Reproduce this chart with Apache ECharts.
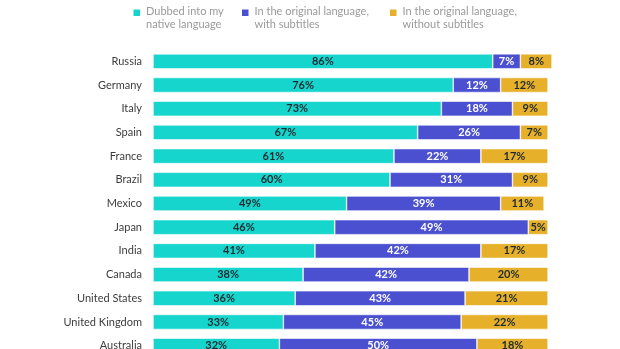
<!DOCTYPE html>
<html><head><meta charset="utf-8">
<script src="https://cdn.jsdelivr.net/npm/echarts@6/dist/echarts.min.js"></script>
<style>html,body{margin:0;padding:0;background:#fff}#c{width:620px;height:349px}</style>
</head><body><div id="c"></div>
<script>
var categories = ["Russia","Germany","Italy","Spain","France","Brazil","Mexico","Japan","India","Canada","United States","United Kingdom","Australia"];
var dubbed = [86,76,73,67,61,60,49,46,41,38,36,33,32];
var withSubs = [7,12,18,26,22,31,39,49,42,42,43,45,50];
var withoutSubs = [8,12,9,7,17,9,11,5,17,20,21,22,18];
var seriesNames = ["Dubbed into my\nnative language","In the original language,\nwith subtitles","In the original language,\nwithout subtitles"];
var colors = ["#16d5cc","#4a50d0","#e6b02a"];
var labelColors = ["#1e2a30","#ffffff","#1e2a30"];
var values = [dubbed, withSubs, withoutSubs];
var font = "Lato, 'Open Sans', sans-serif";
var chart = echarts.init(document.getElementById('c'));
var legendLefts = [131.5, 240, 388];
var legends = seriesNames.map(function(n, i){
  return {
    data:[n], left: legendLefts[i], top: 4.5, padding: 0,
    itemWidth: 8.5, itemHeight: 19, icon: 'path://M0,0L9,0L9,9L0,9Z M0,19L0.001,19Z',
    selectedMode: false,
    textStyle: {color:'#9a9a9a', fontSize: 11, fontFamily: font, lineHeight: 13}
  };
});
chart.setOption({
  animation: false,
  color: colors,
  legend: legends,
  grid: {left: 153, top: 49.5, right: 68, bottom: -8.5, containLabel: false, outerBoundsMode: 'none'},
  xAxis: {type:'value', min:0, max:101, show:false},
  yAxis: {type:'category', data: categories, inverse: true,
    axisLine:{show:false}, axisTick:{show:false}, splitLine:{show:false},
    axisLabel:{color:'#3c3c3c', fontSize: 11, fontFamily: font, margin: 11}},
  series: values.map(function(v, i){
    return {
      name: seriesNames[i], type:'bar', stack:'total', data: v,
      barWidth: 15,
      itemStyle:{color: colors[i], borderColor:'#ffffff', borderWidth: 0.6},
      label:{show:true, position:'inside', formatter:'{c}%', color: labelColors[i],
        fontSize: 11, fontWeight:'bold', fontFamily: font}
    };
  })
});
</script></body></html>
